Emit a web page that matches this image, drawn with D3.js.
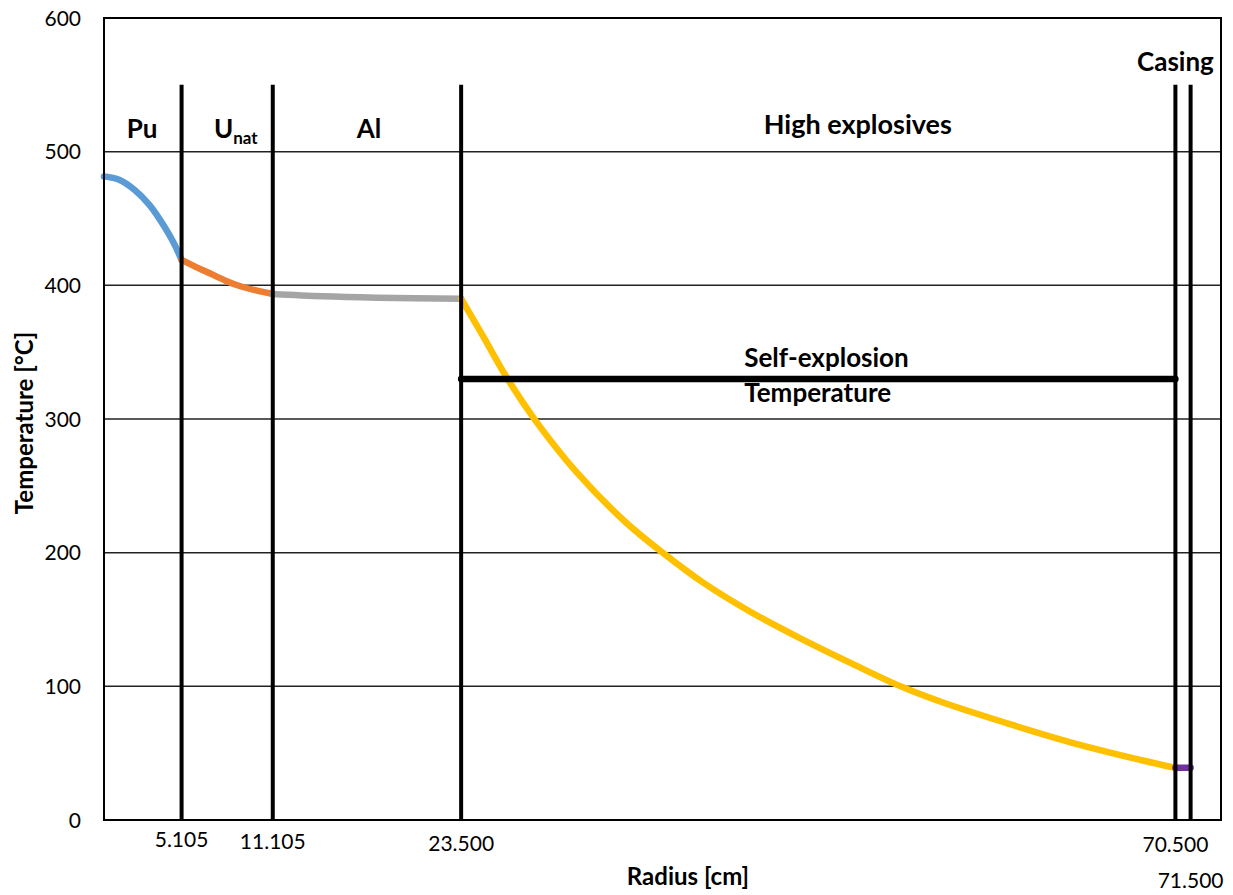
<!DOCTYPE html>
<html>
<head>
<meta charset="utf-8">
<script src="https://cdn.jsdelivr.net/npm/d3@7"></script>
<style>
  html, body { margin: 0; padding: 0; background: #fff; }
  text { font-family: Lato, "Open Sans", sans-serif; fill: #000; }
</style>
</head>
<body>
<svg id="chart" width="1233" height="895"></svg>
<script>
// ---------- DATA ----------
const yTicks = [0, 100, 200, 300, 400, 500, 600];
const boundaries = [5.105, 11.105, 23.5, 70.5, 71.5];
const boundaryLabels = ["5.105", "11.105", "23.500", "70.500", "71.500"];
const boundaryTop = 550;
const selfExplosionTemp = 330;
const selfExplosionRange = [23.5, 70.5];

const puR = [0, 1.0, 2.0, 3.0, 4.0, 4.6, 5.105];
const puT = [481.5, 479.0, 471.5, 460.0, 443.5, 431.5, 419];
const uR = [5.105, 6.0, 6.74, 8.0, 8.93, 10.0, 11.105];
const uT = [419, 414.0, 410.2, 403.5, 399.5, 396.2, 393.5];
const alR = [11.105, 14.4, 18, 23.5];
const alT = [393.5, 391.8, 390.8, 390];
const heR = [23.5, 24.96, 26.5, 28.37, 31.11, 34.4, 36.82, 39.5, 42.53, 45.82, 49.12, 52.41, 55.3, 59.44, 63.83, 68.22, 70.5];
const heT = [390, 361.6, 331.0, 299.2, 260.0, 222, 199.5, 177, 155.8, 135.9, 117.5, 100.0, 87.5, 72.3, 57.4, 44.9, 39];
const caR = [70.5, 71.5];
const caT = [39, 39];

const seriesNames = ["Pu", "Unat", "Al", "High explosives", "Casing"];
const seriesColors = ["#5B9BD5", "#ED7D31", "#A5A5A5", "#FFC000", "#7030A0"];

// ---------- LAYOUT ----------
const plot = { left: 104, right: 1221, top: 18, bottom: 820 };
const svg = d3.select("#chart");

const x = d3.scaleLinear().domain([0, 73.5]).range([plot.left, plot.right]);
const y = d3.scaleLinear().domain([0, 600]).range([plot.bottom, plot.top]);

// gridlines
svg.append("g").selectAll("line").data(yTicks.filter(t => t > 0 && t < 600)).join("line")
  .attr("x1", plot.left).attr("x2", plot.right)
  .attr("y1", d => y(d)).attr("y2", d => y(d))
  .attr("stroke", "#222").attr("stroke-width", 1.5);

// y tick labels
svg.append("g").selectAll("text").data(yTicks).join("text")
  .attr("x", 81).attr("y", d => y(d) + 7.5)
  .attr("text-anchor", "end").attr("font-size", 21)
  .text(d => d);

// series lines
const series = [[puR, puT], [uR, uT], [alR, alT], [heR, heT], [caR, caT]];
const line = d3.line().x(d => x(d[0])).y(d => y(d[1])).curve(d3.curveCatmullRom.alpha(0.5));
svg.append("g").selectAll("path").data(series).join("path")
  .attr("d", s => line(d3.zip(s[0], s[1])))
  .attr("fill", "none")
  .attr("stroke", (s, i) => seriesColors[i])
  .attr("stroke-width", 6.5)
  .attr("stroke-linecap", "round")
  .attr("stroke-linejoin", "round");

// boundary vertical lines
svg.append("g").selectAll("line").data(boundaries).join("line")
  .attr("x1", d => x(d)).attr("x2", d => x(d))
  .attr("y1", y(0)).attr("y2", y(boundaryTop))
  .attr("stroke", "#000").attr("stroke-width", 4);

// self-explosion line
svg.append("line")
  .attr("x1", x(selfExplosionRange[0])).attr("x2", x(selfExplosionRange[1]))
  .attr("y1", y(selfExplosionTemp)).attr("y2", y(selfExplosionTemp))
  .attr("stroke", "#000").attr("stroke-width", 6.5).attr("stroke-linecap", "round");

// plot border
svg.append("rect")
  .attr("x", plot.left).attr("y", plot.top)
  .attr("width", plot.right - plot.left).attr("height", plot.bottom - plot.top)
  .attr("fill", "none").attr("stroke", "#000").attr("stroke-width", 2);

// boundary labels under axis
const labelDy = [27, 29, 31, 32, 68];
svg.append("g").selectAll("text").data(boundaries).join("text")
  .attr("x", d => x(d)).attr("y", (d, i) => plot.bottom + labelDy[i])
  .attr("text-anchor", "middle").attr("font-size", 21)
  .text((d, i) => boundaryLabels[i]);

// region labels
function label(txt, xr, yt, anchor) {
  return svg.append("text").attr("x", x(xr)).attr("y", y(yt))
    .attr("text-anchor", anchor || "middle")
    .attr("font-weight", "bold").attr("font-size", 26)
    .text(txt);
}
label("Pu", 2.51, 510);
const u = svg.append("text").attr("x", x(8.67)).attr("y", y(510))
  .attr("text-anchor", "middle").attr("font-weight", "bold").attr("font-size", 26);
u.append("tspan").text("U");
u.append("tspan").attr("font-size", 17).attr("dy", 6).text("nat");
label("Al", 17.43, 510);
label("High explosives", 49.6, 513).attr("font-size", 27);
label("Casing", 70.5, 560);
label("Self-explosion", 42.13, 339, "start");
label("Temperature", 42.13, 313, "start");

// axis titles
svg.append("text").attr("x", 688).attr("y", 885)
  .attr("text-anchor", "middle").attr("font-weight", "bold").attr("font-size", 24)
  .text("Radius [cm]");
svg.append("text")
  .attr("transform", `translate(33, 423) rotate(-90)`)
  .attr("text-anchor", "middle").attr("font-weight", "bold").attr("font-size", 24)
  .text("Temperature [°C]");
</script>
</body>
</html>
